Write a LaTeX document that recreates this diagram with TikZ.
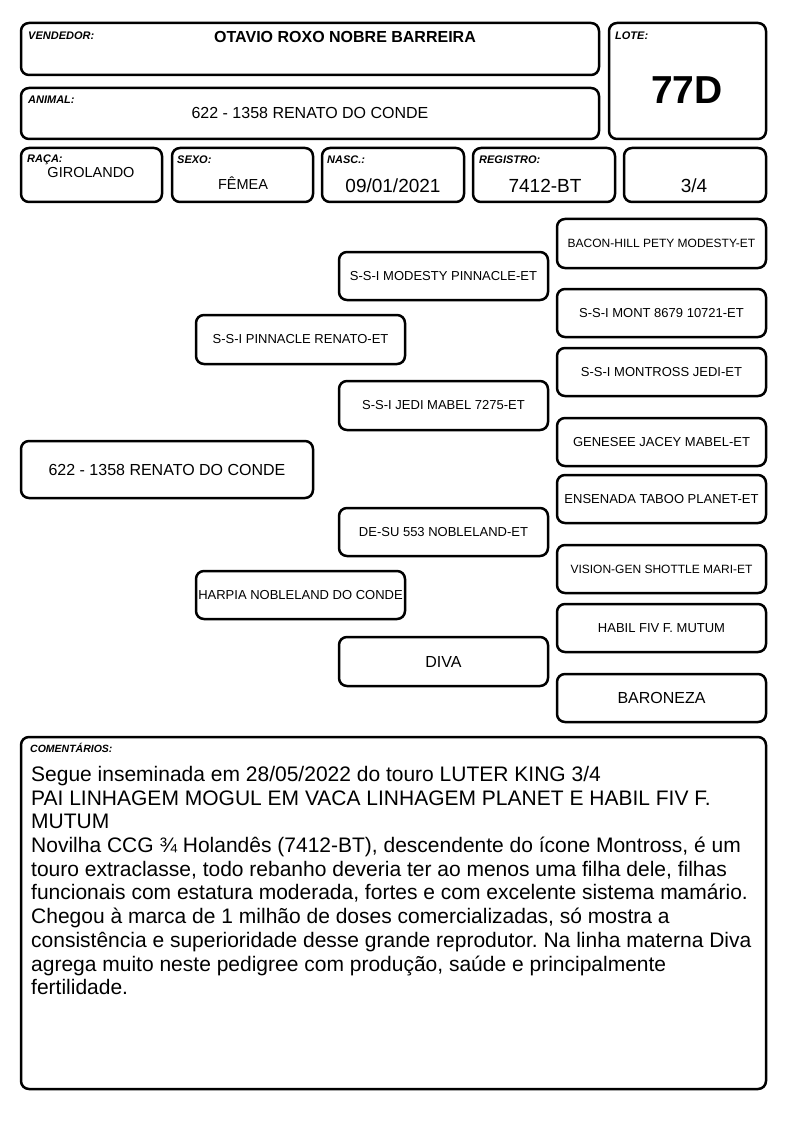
\documentclass[tikz,border=0pt]{standalone}
\usepackage{fontspec}
\setmainfont{Liberation Sans}
\frenchspacing
\tikzset{
  box/.style={draw, line width=2.5pt, rounded corners=8pt, inner sep=0pt, align=center},
  lab/.style={anchor=base west, inner sep=0pt, font=\fontsize{11}{13}\selectfont\bfseries\itshape},
  val/.style={anchor=base, inner sep=0pt},
  ped/.style={font=\fontsize{13}{15}\selectfont},
  peds/.style={font=\fontsize{12}{14}\selectfont},
  pedb/.style={font=\fontsize{16}{18}\selectfont}
}
\newcommand\bx[7][]{\node[box,#1,minimum width={#5-#3},minimum height={#6-#4}] (#2) at ({(#3+#5)/2},{(#4+#6)/2}) {#7};}
\begin{document}
\begin{tikzpicture}[x=1pt,y=-1pt]
\useasboundingbox (0,0) rectangle (794,1123);
% header
\bx{vend}{21}{23}{599}{75}{}
\bx{lote}{609}{23}{766}{139}{}
\bx{anim}{21}{88}{599}{139}{}
\bx{raca}{21}{148}{162}{202}{}
\bx{sexo}{172}{148}{313}{202}{}
\bx{nasc}{322}{148}{464}{202}{}
\bx{reg}{473}{148}{615}{202}{}
\bx{frac}{624}{148}{766}{202}{}
\node[lab] (lvend) at (28,39.5) {VENDEDOR:};
\node[lab] (llote) at (615,39.5) {LOTE:};
\node[lab] (lanim) at (28,103.5) {ANIMAL:};
\node[lab] (lraca) at (27,163) {RAÇA:};
\node[lab] (lsexo) at (177,164) {SEXO:};
\node[lab] (lnasc) at (327,164) {NASC.:};
\node[lab] (lreg) at (479,164) {REGISTRO:};
\node[val, font=\fontsize{16}{18}\selectfont\bfseries] (tvend) at (345,43) {OTAVIO ROXO NOBRE BARREIRA};
\node[val, font=\fontsize{39}{42}\selectfont\bfseries] (tlote) at (687,104) {77D};
\node[val, font=\fontsize{16}{18}\selectfont] (tanim) at (310,119) {622 - 1358 RENATO DO CONDE};
\node[val, font=\fontsize{14.5}{16}\selectfont] (traca) at (91,178) {GIROLANDO};
\node[val, font=\fontsize{14.5}{16}\selectfont] (tsexo) at (243,189.5) {FÊMEA};
\node[val, font=\fontsize{19}{21}\selectfont] (tnasc) at (393,193) {09/01/2021};
\node[val, font=\fontsize{19}{21}\selectfont] (treg) at (545,193) {7412-BT};
\node[val, font=\fontsize{19}{21}\selectfont] (tfrac) at (694,193) {3/4};
% pedigree
\bx[pedb]{main}{21}{441}{313}{498}{622 - 1358 RENATO DO CONDE}
\bx[ped]{s}{196}{315}{405}{364}{S-S-I PINNACLE RENATO-ET}
\bx[ped]{d}{196}{571}{405}{619}{HARPIA NOBLELAND DO CONDE}
\bx[ped]{ss}{339}{252}{548}{300}{S-S-I MODESTY PINNACLE-ET}
\bx[ped]{sd}{339}{381}{548}{430}{S-S-I JEDI MABEL 7275-ET}
\bx[ped]{ds}{339}{508}{548}{556}{DE-SU 553 NOBLELAND-ET}
\bx[pedb]{dd}{339}{637}{548}{686}{DIVA}
\bx[peds]{sss}{557}{219}{766}{268}{BACON-HILL PETY MODESTY-ET}
\bx[ped]{ssd}{557}{289}{766}{337}{S-S-I MONT 8679 10721-ET}
\bx[ped]{sds}{557}{348}{766}{396}{S-S-I MONTROSS JEDI-ET}
\bx[ped]{sdd}{557}{418}{766}{466}{GENESEE JACEY MABEL-ET}
\bx[ped]{dss}{557}{475}{766}{523}{ENSENADA TABOO PLANET-ET}
\bx[peds]{dsd}{557}{545}{766}{593}{VISION-GEN SHOTTLE MARI-ET}
\bx[ped]{dds}{557}{604}{766}{652}{HABIL FIV F. MUTUM}
\bx[pedb]{ddd}{557}{674}{766}{722}{BARONEZA}
% comments
\bx{com}{21}{737}{766}{1089}{}
\node[lab, font=\fontsize{10.5}{12}\selectfont\bfseries\itshape] (lcom) at (30,752) {COMENTÁRIOS:};
\node[anchor=north west, inner sep=0pt, align=left, font=\fontsize{21}{23.7}\selectfont] (tcom) at (31,766) {Segue inseminada em 28/05/2022 do touro LUTER KING 3/4\\
PAI LINHAGEM MOGUL EM VACA LINHAGEM PLANET E HABIL FIV F.\\
MUTUM\\
Novilha CCG ¾ Holandês (7412-BT), descendente do ícone Montross, é um\\
touro extraclasse, todo rebanho deveria ter ao menos uma filha dele, filhas\\
funcionais com estatura moderada, fortes e com excelente sistema mamário.\\
Chegou à marca de 1 milhão de doses comercializadas, só mostra a\\
consistência e superioridade desse grande reprodutor. Na linha materna Diva\\
agrega muito neste pedigree com produção, saúde e principalmente\\
fertilidade.};
\end{tikzpicture}
\end{document}
